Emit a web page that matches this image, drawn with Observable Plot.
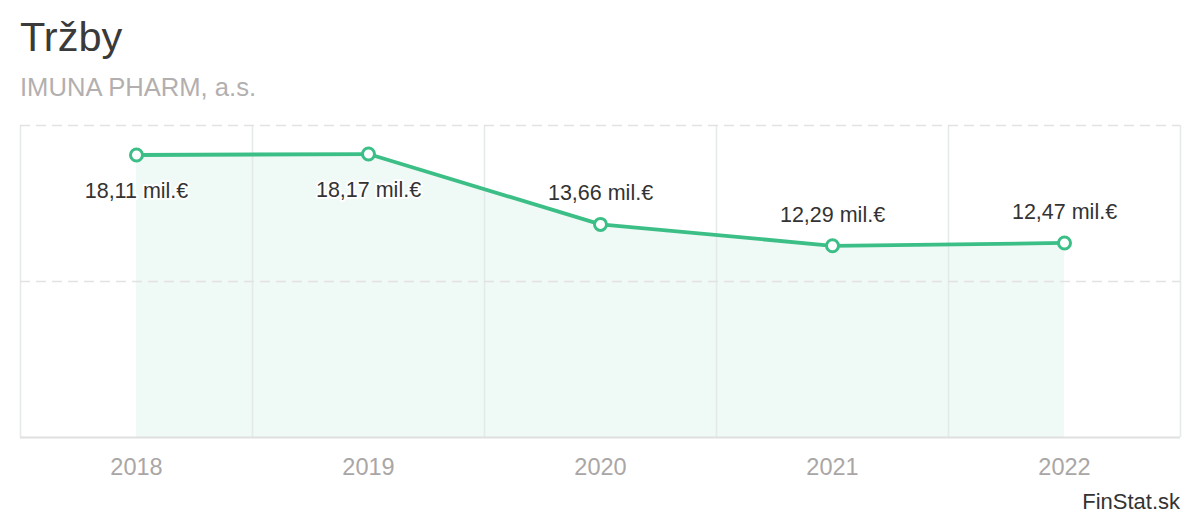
<!DOCTYPE html>
<html>
<head>
<meta charset="utf-8">
<script src="https://cdn.jsdelivr.net/npm/d3@7"></script>
<script src="https://cdn.jsdelivr.net/npm/@observablehq/plot@0.6"></script>
<style>
  html, body { margin: 0; padding: 0; background: #fff; }
  #wrap { position: relative; width: 1200px; height: 520px; font-family: "Liberation Sans", Arial, sans-serif; }
  .t { position: absolute; white-space: nowrap; line-height: 1; }
  #title { left: 20px; top: 16px; font-size: 41.5px; color: #3a3a3a; }
  #subtitle { left: 20px; top: 75px; font-size: 25.6px; color: #b3afaf; }
  #caption { right: 20px; top: 491px; font-size: 22px; color: #333; }
  #chart { position: absolute; left: 0; top: 0; }
</style>
</head>
<body>
<div id="wrap">
  <div id="chart"></div>
  <div class="t" id="title">Tržby</div>
  <div class="t" id="subtitle">IMUNA PHARM, a.s.</div>
  <div class="t" id="caption">FinStat.sk</div>
</div>
<script>
const years = [2018, 2019, 2020, 2021, 2022];
const values = [18.11, 18.17, 13.66, 12.29, 12.47];
const yGrid = [10, 20];
const bandEdges = [2017.5, 2018.5, 2019.5, 2020.5, 2021.5, 2022.5];

const data = years.map((year, i) => ({year, value: values[i]}));
const fmt = d => d.value.toFixed(2).replace(".", ",") + " mil.€";
const green = "#3cbf87";

const chart = Plot.plot({
  width: 1200,
  height: 520,
  marginTop: 125,
  marginBottom: 83,
  marginLeft: 20,
  marginRight: 20,
  style: { fontFamily: "Liberation Sans, Arial, sans-serif", background: "transparent" },
  x: { domain: [2017.5, 2022.5], label: null },
  y: { domain: [0, 20], axis: null },
  marks: [
    Plot.areaY(data, { x: "year", y: "value", fill: "#eff9f5" }),
    Plot.ruleX(bandEdges, { stroke: "#e4e9e9", strokeWidth: 1.5 }),
    Plot.ruleY(yGrid, { stroke: "#e2e2e2", strokeWidth: 1.5, strokeDasharray: "10,6" }),
    Plot.ruleY([0], { stroke: "#e0e0e0", strokeWidth: 2 }),
    Plot.line(data, { x: "year", y: "value", stroke: green, strokeWidth: 3.8 }),
    Plot.dot(data, { x: "year", y: "value", r: 6, fill: "white", stroke: green, strokeWidth: 3 }),
    Plot.text(data.filter(d => d.value > 16), { x: "year", y: "value", text: fmt, dy: 36, fontSize: 21.5, fill: "#333", stroke: "white", strokeWidth: 4 }),
    Plot.text(data.filter(d => d.value <= 16), { x: "year", y: "value", text: fmt, dy: -31, fontSize: 21.5, fill: "#333", stroke: "white", strokeWidth: 4 }),
    Plot.axisX(years, { tickSize: 0, tickPadding: 21, tickFormat: d => String(d), fontSize: 23.5, fill: "#aaa6a6", stroke: null, label: null })
  ]
});
document.getElementById("chart").appendChild(chart);
</script>
</body>
</html>
